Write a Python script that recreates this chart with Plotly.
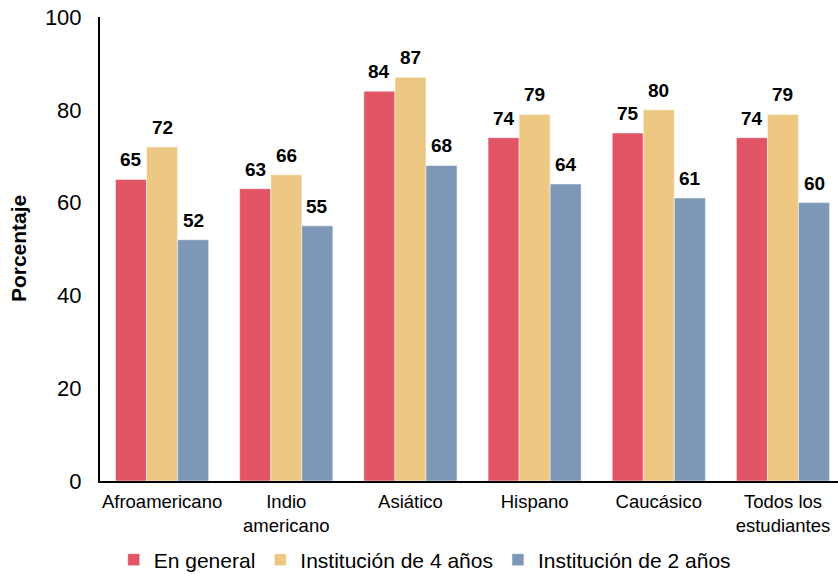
import plotly.graph_objects as go

categories = ["Afroamericano", "Indio<br>americano", "Asiático", "Hispano", "Caucásico", "Todos los<br>estudiantes"]
general = [65, 63, 84, 74, 75, 74]
cuatro = [72, 66, 87, 79, 80, 79]
dos = [52, 55, 68, 64, 61, 60]
series_names = ["En general", "Institución de 4 años", "Institución de 2 años"]
colors = ["#E15566", "#EDC883", "#7C98B6"]
offsets = [-0.25, 0.0, 0.25]

FONT = "Liberation Sans, Arial, Helvetica"

fig = go.Figure()
for name, vals, col in zip(series_names, [general, cuatro, dos], colors):
    fig.add_trace(go.Bar(
        x=categories, y=vals, name=name,
        marker=dict(color=col, line=dict(color="white", width=0.5)),
    ))

annotations = []
for vals, off in zip([general, cuatro, dos], offsets):
    for i, v in enumerate(vals):
        annotations.append(dict(
            x=i + off, y=v, xref="x", yref="y", text=f"<b>{v}</b>",
            showarrow=False, yanchor="bottom", xanchor="center", yshift=7,
            font=dict(family=FONT, size=19, color="black"),
        ))
annotations.append(dict(
    x=-0.111, y=0.5, xref="paper", yref="paper", text="<b>Porcentaje</b>",
    textangle=-90, showarrow=False, xanchor="center", yanchor="middle",
    font=dict(family=FONT, size=21, color="black"),
))

fig.update_layout(
    width=838, height=574,
    margin=dict(l=100, r=0, t=17, b=93),
    plot_bgcolor="white", paper_bgcolor="white",
    barmode="group", bargap=0.25, bargroupgap=0,
    font=dict(family=FONT, color="black"),
    showlegend=True,
    legend=dict(orientation="h", x=0.44, xanchor="center", xref="paper",
                y=0.0244, yanchor="middle", yref="container",
                font=dict(size=21), itemwidth=30, traceorder="normal"),
    annotations=annotations,
)
fig.update_yaxes(range=[0, 100], dtick=20, showgrid=False, zeroline=False,
                 showline=True, linecolor="black", linewidth=2, automargin=False,
                 ticks="", tickfont=dict(size=22), ticklabelstandoff=12)
fig.update_xaxes(range=[-0.5, 5.443], showgrid=False, showline=True, linecolor="black",
                 linewidth=2, automargin=False, ticks="", tickfont=dict(size=18.5),
                 ticklabelstandoff=3)

fig.write_html("out.html", config={"displayModeBar": False},
               post_script="document.body.style.margin='0';")
